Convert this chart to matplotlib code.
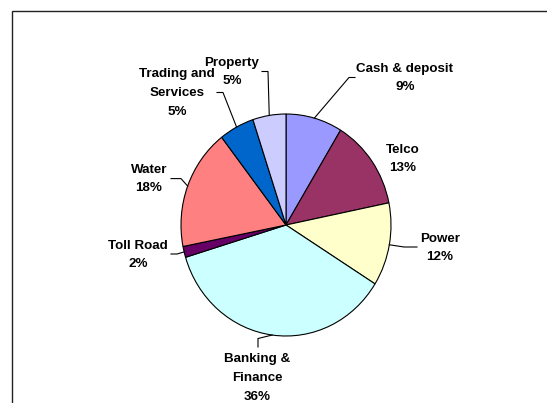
import matplotlib
matplotlib.use("Agg")
import matplotlib.pyplot as plt
import numpy as np
from matplotlib.patches import Rectangle

# ---- data ----
categories = ["Cash & deposit", "Telco", "Power", "Banking &\nFinance", "Toll Road",
              "Water", "Trading and\nServices", "Property"]
values = [8.7, 13.1, 12.1, 36.4, 1.6, 17.6, 5.4, 5.1]
pct_labels = ["9%", "13%", "12%", "36%", "2%", "18%", "5%", "5%"]
colors = ["#9999FF", "#993366", "#FFFFCC", "#CCFFFF", "#660066", "#FF8080", "#0066CC", "#CCCCFF"]

# ---- layout (pixel coordinates in a 547x403 image) ----
W, H = 547, 403
cx, cy, rx, ry = 286, 225, 105, 111
line_pitch = 18.7
label_pos = [(405, 78), (403, 159), (440, 248), (257, 378), (138, 255),
             (149, 179), (177, 93), (232, 72)]
# leader line: elbow point and end point (pixels), None = no leader
leaders = [((349, 77.5), (355, 77.5)),
           None,
           ((404, 247), (417, 247)),
           ((258, 338.5), (258, 347)),
           ((177, 254), (171, 254)),
           ((181, 178.6), (171, 178.6)),
           ((223, 92.5), (217, 92.5)),
           ((268, 71.5), (262, 71.5))]

def px2d(p):
    return ((p[0] - cx) / rx, (cy - p[1]) / ry)

fig = plt.figure(figsize=(W / 100, H / 100), dpi=100)
ax = fig.add_axes([0, 0, 1, 1])
wedges, _ = ax.pie(values, colors=colors, startangle=90, counterclock=False,
                   wedgeprops=dict(edgecolor="black", linewidth=0.8))
ax.set_aspect("auto")
ax.set_xlim(-cx / rx, (W - cx) / rx)
ax.set_ylim(-(H - cy) / ry, cy / ry)
ax.axis("off")

for i, w in enumerate(wedges):
    lines = (categories[i] + "\n" + pct_labels[i]).split("\n")
    n = len(lines)
    px, py = label_pos[i]
    for k, line in enumerate(lines):
        ly = py + (k - (n - 1) / 2) * line_pitch
        x, y = px2d((px, ly))
        ax.text(x, y, line, ha="center", va="center",
                fontsize=9.6, fontweight="bold", family="Liberation Sans",
                color="black")
    if leaders[i] is not None:
        th = np.deg2rad((w.theta1 + w.theta2) / 2)
        a = (np.cos(th), np.sin(th))
        e1 = px2d(leaders[i][0])
        e2 = px2d(leaders[i][1])
        ax.plot([a[0], e1[0], e2[0]], [a[1], e1[1], e2[1]], color="black", lw=0.8)

fig.patches.append(Rectangle((11.5 / W, -0.1), 1.2, 1 - 10.5 / H + 0.1,
                             transform=fig.transFigure, fill=False,
                             edgecolor="#222222", linewidth=1.0))
fig.savefig("out.png", dpi=100, facecolor="white")
